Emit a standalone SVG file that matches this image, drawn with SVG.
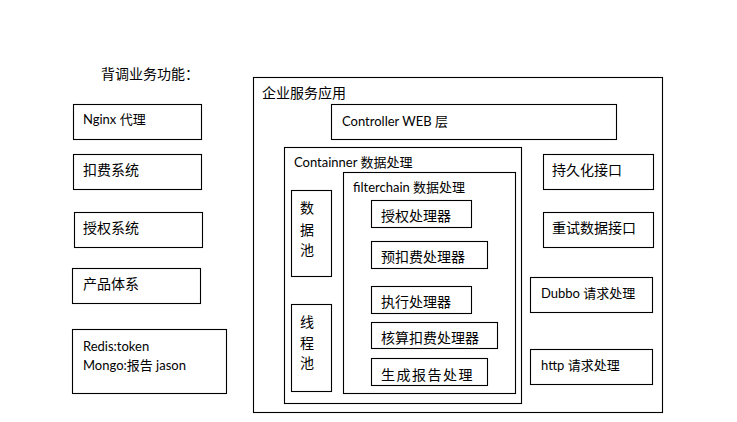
<svg xmlns="http://www.w3.org/2000/svg" width="737" height="422" viewBox="0 0 737 422">
  <style>
    .box { fill: #ffffff; stroke: #000000; stroke-width: 1.1; }
    .lbl { font-family: "Lato", "Noto Sans CJK SC", sans-serif; font-size: 13px; fill: #000000; }
    .cn { font-family: "Noto Sans CJK SC", sans-serif; font-size: 14px; fill: #000000; }
  </style>
  <rect x="0" y="0" width="737" height="422" fill="#ffffff"/>

  <!-- left column: background-check functions -->
  <g id="title-left">
    <text class="cn" x="101" y="79" font-size="13.5">背调业务功能：</text>
  </g>
  <g id="nginx">
    <rect class="box" x="73.5" y="104.5" width="128" height="35"/>
    <text class="lbl" x="83" y="124">Nginx 代理</text>
  </g>
  <g id="billing">
    <rect class="box" x="73.5" y="154.5" width="128" height="35"/>
    <text class="cn" x="83" y="175">扣费系统</text>
  </g>
  <g id="auth">
    <rect class="box" x="74.5" y="212.5" width="128" height="35"/>
    <text class="cn" x="83" y="233">授权系统</text>
  </g>
  <g id="product">
    <rect class="box" x="72.5" y="268.5" width="128" height="35"/>
    <text class="cn" x="83" y="289">产品体系</text>
  </g>
  <g id="storage">
    <rect class="box" x="72.5" y="329.5" width="154" height="64"/>
    <text class="lbl" x="83" y="351">Redis:token</text>
    <text class="lbl" x="83" y="370">Mongo:报告 jason</text>
  </g>

  <!-- enterprise service application -->
  <g id="app">
    <rect class="box" x="253.5" y="77.5" width="409" height="335"/>
    <text class="cn" x="262" y="98">企业服务应用</text>
  </g>
  <g id="controller">
    <rect class="box" x="331.5" y="104.5" width="285" height="35"/>
    <text class="lbl" x="342" y="126">Controller WEB 层</text>
  </g>
  <g id="container">
    <rect class="box" x="284.5" y="147.5" width="237" height="256"/>
    <text class="lbl" x="294" y="167">Containner 数据处理</text>
  </g>
  <g id="data-pool">
    <rect class="box" x="291.5" y="190.5" width="40" height="86"/>
    <text class="cn" x="300" y="213">数</text>
    <text class="cn" x="300" y="235">据</text>
    <text class="cn" x="300" y="255">池</text>
  </g>
  <g id="thread-pool">
    <rect class="box" x="291.5" y="304.5" width="40" height="87"/>
    <text class="cn" x="300" y="327">线</text>
    <text class="cn" x="300" y="348">程</text>
    <text class="cn" x="300" y="368">池</text>
  </g>
  <g id="filterchain">
    <rect class="box" x="343.5" y="172.5" width="172" height="221"/>
    <text class="lbl" x="353" y="192">filterchain 数据处理</text>
  </g>
  <g id="auth-handler">
    <rect class="box" x="371.5" y="200.5" width="100" height="27"/>
    <text class="cn" x="381" y="221">授权处理器</text>
  </g>
  <g id="prededuct-handler">
    <rect class="box" x="371.5" y="241.5" width="116" height="27"/>
    <text class="cn" x="381" y="262">预扣费处理器</text>
  </g>
  <g id="exec-handler">
    <rect class="box" x="371.5" y="286.5" width="100" height="27"/>
    <text class="cn" x="381" y="307">执行处理器</text>
  </g>
  <g id="settle-handler">
    <rect class="box" x="371.5" y="322.5" width="126" height="26"/>
    <text class="cn" x="381" y="343">核算扣费处理器</text>
  </g>
  <g id="report-handler">
    <rect class="box" x="371.5" y="358.5" width="116" height="27"/>
    <text class="cn" x="381" y="380" letter-spacing="1.5">生成报告处理</text>
  </g>
  <g id="persist-api">
    <rect class="box" x="543.5" y="154.5" width="110" height="35"/>
    <text class="cn" x="552" y="175">持久化接口</text>
  </g>
  <g id="retry-api">
    <rect class="box" x="543.5" y="212.5" width="110" height="35"/>
    <text class="cn" x="552" y="233">重试数据接口</text>
  </g>
  <g id="dubbo">
    <rect class="box" x="530.5" y="277.5" width="122" height="35"/>
    <text class="lbl" x="541" y="298">Dubbo 请求处理</text>
  </g>
  <g id="http">
    <rect class="box" x="530.5" y="349.5" width="122" height="35"/>
    <text class="lbl" x="541" y="370">http 请求处理</text>
  </g>

  <g id="connectors"></g>
</svg>
